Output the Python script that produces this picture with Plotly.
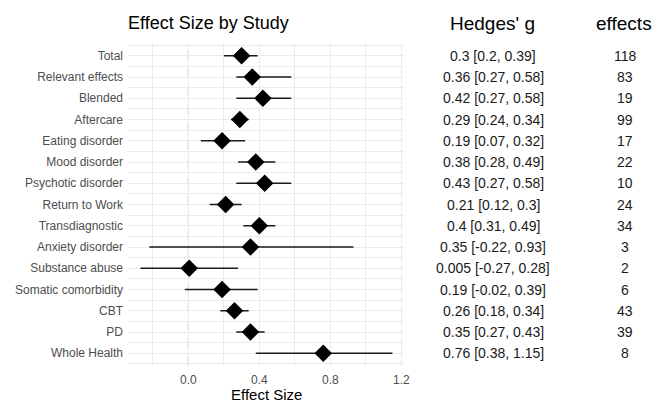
import plotly.graph_objects as go

categories = ["Total", "Relevant effects", "Blended", "Aftercare", "Eating disorder",
              "Mood disorder", "Psychotic disorder", "Return to Work", "Transdiagnostic",
              "Anxiety disorder", "Substance abuse", "Somatic comorbidity", "CBT", "PD",
              "Whole Health"]
g_est = [0.3, 0.36, 0.42, 0.29, 0.19, 0.38, 0.43, 0.21, 0.4, 0.35, 0.005, 0.19, 0.26, 0.35, 0.76]
ci_lo = [0.2, 0.27, 0.27, 0.24, 0.07, 0.28, 0.27, 0.12, 0.31, -0.22, -0.27, -0.02, 0.18, 0.27, 0.38]
ci_hi = [0.39, 0.58, 0.58, 0.34, 0.32, 0.49, 0.58, 0.3, 0.49, 0.93, 0.28, 0.39, 0.34, 0.43, 1.15]
hedges_labels = ["0.3 [0.2, 0.39]", "0.36 [0.27, 0.58]", "0.42 [0.27, 0.58]", "0.29 [0.24, 0.34]",
                 "0.19 [0.07, 0.32]", "0.38 [0.28, 0.49]", "0.43 [0.27, 0.58]", "0.21 [0.12, 0.3]",
                 "0.4 [0.31, 0.49]", "0.35 [-0.22, 0.93]", "0.005 [-0.27, 0.28]", "0.19 [-0.02, 0.39]",
                 "0.26 [0.18, 0.34]", "0.35 [0.27, 0.43]", "0.76 [0.38, 1.15]"]
n_effects = [118, 83, 19, 99, 17, 22, 10, 24, 34, 3, 2, 6, 43, 39, 8]
x_ticks = [0.0, 0.4, 0.8, 1.2]
x_tick_labels = ["0.0", "0.4", "0.8", "1.2"]

FONT = "Liberation Sans, Arial, sans-serif"
ypos = list(range(len(categories)))

W, H = 654, 402
plot_l, plot_r = 128, 404
plot_t, plot_b = 43, 366
panel_h = plot_b - plot_t
domain_r = (plot_r - plot_l) / (W - plot_l)


def px_to_paper(px):
    return (px - plot_l) / (W - plot_l)


fig = go.Figure()
fig.add_trace(go.Scatter(
    x=g_est, y=ypos, mode="markers",
    marker=dict(symbol="diamond", size=13.5, color="black"),
    error_x=dict(type="data", symmetric=False,
                 array=[h - e for h, e in zip(ci_hi, g_est)],
                 arrayminus=[e - l for e, l in zip(g_est, ci_lo)],
                 width=0, thickness=1.5, color="#1a1a1a"),
    showlegend=False, hoverinfo="skip"))

fig.add_shape(type="line", xref="x", yref="paper", x0=0, x1=0, y0=0, y1=1,
              line=dict(color="#7f7f7f", width=1, dash="dash"), layer="below")

annotations = []
for yi, hl, ne in zip(ypos, hedges_labels, n_effects):
    annotations.append(dict(x=px_to_paper(493), y=yi, xref="paper", yref="y", text=hl,
                            showarrow=False, xanchor="center", yanchor="middle",
                            font=dict(family=FONT, size=14, color="#1a1a1a")))
    annotations.append(dict(x=px_to_paper(625), y=yi, xref="paper", yref="y", text=str(ne),
                            showarrow=False, xanchor="center", yanchor="middle",
                            font=dict(family=FONT, size=14, color="#1a1a1a")))
for xp, txt in [(492, "Hedges' g"), (624, "effects")]:
    annotations.append(dict(x=px_to_paper(xp), y=1 + (plot_t - 24) / panel_h, xref="paper", yref="paper",
                            text=txt, showarrow=False, xanchor="center", yanchor="middle",
                            font=dict(family=FONT, size=19, color="black")))
# x-axis title placed just below the tick labels
annotations.append(dict(x=domain_r / 2, y=-(394 - plot_b) / panel_h, xref="paper", yref="paper",
                        text="Effect Size", showarrow=False, xanchor="center", yanchor="middle",
                        font=dict(family=FONT, size=15, color="black")))

fig.update_layout(
    width=W, height=H,
    margin=dict(l=plot_l, r=0, t=plot_t, b=H - plot_b, pad=0),
    paper_bgcolor="white", plot_bgcolor="white",
    font=dict(family=FONT),
    title=dict(text="Effect Size by Study", x=0, xref="paper", xanchor="left",
               y=1 - 23 / H, yref="container", yanchor="middle",
               font=dict(family=FONT, size=18, color="black")),
    xaxis=dict(domain=[0, domain_r], range=[-0.34, 1.215], automargin=False,
               tickmode="array", tickvals=x_ticks, ticktext=x_tick_labels,
               showgrid=True, gridcolor="#EBEBEB", gridwidth=1,
               minor=dict(tick0=0, dtick=0.2, showgrid=True, gridcolor="#EBEBEB", gridwidth=0.7),
               zeroline=False, showline=False, ticks="",
               ticklabelstandoff=5,
               tickfont=dict(family=FONT, size=12, color="#4D4D4D")),
    yaxis=dict(range=[len(categories) - 0.4, -0.6], automargin=False,
               tickmode="array", tickvals=ypos, ticktext=categories,
               showgrid=True, gridcolor="#EBEBEB", gridwidth=1,
               minor=dict(tick0=0.5, dtick=1, showgrid=True, gridcolor="#EBEBEB", gridwidth=0.7),
               zeroline=False, showline=False, ticks="",
               ticklabelstandoff=4,
               tickfont=dict(family=FONT, size=12, color="#4D4D4D")),
    annotations=annotations,
)

fig.write_html("out.html", config={"displayModeBar": False},
               post_script="document.body.style.margin='0px';")
